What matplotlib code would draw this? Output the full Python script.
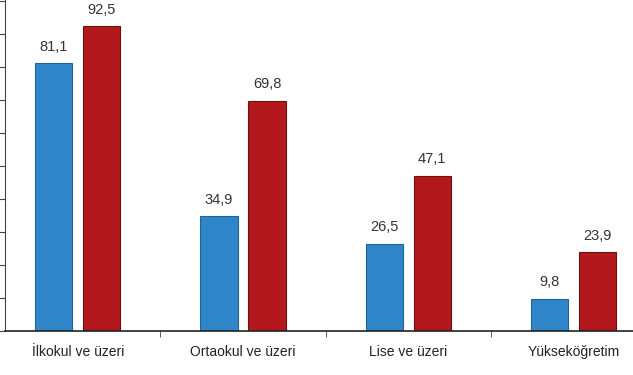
import matplotlib
matplotlib.use("Agg")
import matplotlib.pyplot as plt
import numpy as np

categories = ["İlkokul ve üzeri", "Ortaokul ve üzeri", "Lise ve üzeri", "Yükseköğretim"]
series_blue = [81.1, 34.9, 26.5, 9.8]
series_red = [92.5, 69.8, 47.1, 23.9]

plt.rcParams['font.family'] = ['Liberation Sans', 'DejaVu Sans']

fig = plt.figure(figsize=6.33 * np.array([1, 375 / 633]), dpi=100)
base = 331
ax = fig.add_axes([5 / 633, 1 - base / 375, 1 - 5 / 633, base / 375])

x = np.arange(len(categories))
w = 0.225
off = 0.145
blue = "#2E86C9"
red = "#B3191C"
b1 = ax.bar(x - off, series_blue, w, color=blue, edgecolor="#24629a", linewidth=0.8)
b2 = ax.bar(x + off, series_red, w, color=red, edgecolor="#6e1012", linewidth=0.8)

for rects, vals in ((b1, series_blue), (b2, series_red)):
    for r, v in zip(rects, vals):
        ax.text(r.get_x() + r.get_width() / 2, v + 2.8, f"{v:.1f}".replace(".", ","),
                ha="center", va="bottom", fontsize=10.5, color="#333333")

ax.set_xlim(-0.44, 3.36)
ax.set_ylim(0, base / 3.3)
ax.set_xticks(x)
ax.set_xticklabels(categories, fontsize=10, color="#222222")
ax.set_xticks([0.5, 1.5, 2.5], minor=True)
ax.tick_params(axis="x", which="major", length=0, pad=10)
ax.tick_params(axis="x", which="minor", length=4, color="#444444", direction="out")
ax.set_yticks(np.arange(0, 101, 10))
ax.set_yticklabels([])
ax.tick_params(axis="y", length=5, color="#444444", direction="out")
for s in ("top", "right"):
    ax.spines[s].set_visible(False)
ax.spines["left"].set_color("#444444")
ax.spines["bottom"].set_color("#222222")
ax.spines["bottom"].set_linewidth(1.2)

fig.savefig("out.png", dpi=100)
